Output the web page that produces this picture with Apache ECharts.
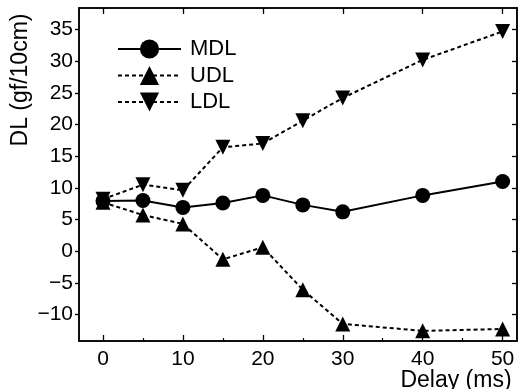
<!DOCTYPE html>
<html><head><meta charset="utf-8">
<script src="https://cdn.jsdelivr.net/npm/echarts@6/dist/echarts.min.js"></script>
<style>html,body{margin:0;padding:0;background:#fff}#c{width:518px;height:389px}</style>
</head><body><div id="c"></div>
<script>
var delays = [0, 5, 10, 15, 20, 25, 30, 40, 50];
var mdl = [7.9, 8.0, 6.9, 7.6, 8.8, 7.3, 6.2, 8.8, 11.0];
var udl = [7.7, 5.7, 4.3, -1.3, 0.6, -6.1, -11.5, -12.6, -12.3];
var ldl = [8.2, 10.5, 9.6, 16.4, 17.0, 20.6, 24.2, 30.2, 34.7];
var xTicks = [0, 10, 20, 30, 40, 50];
var xMinorTicks = [5, 15, 25, 35, 45];
var yTicks = [-10, -5, 0, 5, 10, 15, 20, 25, 30, 35];
var font = 'Liberation Sans, Arial, Helvetica, sans-serif';

function pairs(v){ return delays.map(function(d,i){ return [d, v[i]]; }); }

var chart = echarts.init(document.getElementById('c'), null, {renderer:'canvas'});
var xBase = {type:'value', min:-3, max:51.8, splitLine:{show:false}};
chart.setOption({
  animation:false,
  backgroundColor:'#fff',
  grid:{left:79, top:8, right:1, bottom:48, show:true, borderColor:'#000', borderWidth:1.5},
  legend:{
    orient:'vertical', left:112, top:33, itemWidth:63, itemHeight:24, itemGap:4.5,
    textStyle:{fontFamily:font, fontSize:22, color:'#000', padding:[0,0,0,4]},
    data:['MDL','UDL','LDL']
  },
  xAxis:[
    Object.assign({}, xBase, {position:'bottom',
      axisLine:{onZero:false, lineStyle:{color:'#000', width:1.5}},
      axisTick:{inside:true, length:6, lineStyle:{color:'#000', width:1.3}, customValues:xTicks},
      axisLabel:{customValues:xTicks, color:'#000', fontFamily:font, fontSize:21, margin:8}
    }),
    Object.assign({}, xBase, {position:'bottom',
      axisLine:{show:false, onZero:false},
      axisTick:{inside:true, length:3, lineStyle:{color:'#000', width:1.2}, customValues:xMinorTicks},
      axisLabel:{show:false}
    }),
    Object.assign({}, xBase, {position:'top',
      axisLine:{onZero:false, lineStyle:{color:'#000', width:1.5}},
      axisTick:{inside:true, length:6, lineStyle:{color:'#000', width:1.3}, customValues:xTicks},
      axisLabel:{show:false}
    })
  ],
  yAxis:[
    {type:'value', min:-14.2, max:38.4, position:'left', splitLine:{show:false},
      axisLine:{show:true, onZero:false, lineStyle:{color:'#000', width:1.5}},
      axisTick:{show:true, inside:false, length:4, lineStyle:{color:'#000', width:1.3}, customValues:yTicks},
      axisLabel:{customValues:yTicks, color:'#000', fontFamily:font, fontSize:21, margin:6,
        formatter:function(v){ return v < 0 ? '\u2212' + Math.abs(v) : String(v); }}
    },
    {type:'value', min:-14.2, max:38.4, position:'right', splitLine:{show:false},
      axisLine:{show:true, onZero:false, lineStyle:{color:'#000', width:1.5}},
      axisTick:{show:true, inside:true, length:5, lineStyle:{color:'#000', width:1.3}, customValues:yTicks},
      axisLabel:{show:false}
    }
  ],
  graphic:[
    {type:'text', x:21, y:80, rotation:Math.PI/2,
      style:{text:'DL (gf/10cm)', font:'23px ' + font, fill:'#000', align:'center', verticalAlign:'middle'}},
    {type:'text', x:456, y:381,
      style:{text:'Delay (ms)', font:'23px ' + font, fill:'#000', align:'center', verticalAlign:'middle'}}
  ],
  series:[
    {name:'MDL', type:'line', data:pairs(mdl), symbol:'circle', symbolSize:15,
      lineStyle:{color:'#000', width:2}, itemStyle:{color:'#000'}, z:3},
    {name:'UDL', type:'line', data:pairs(udl), symbol:'triangle', symbolSize:15,
      lineStyle:{color:'#000', width:2, type:[4,3]}, itemStyle:{color:'#000'}},
    {name:'LDL', type:'line', data:pairs(ldl), symbol:'triangle', symbolSize:15, symbolRotate:180,
      lineStyle:{color:'#000', width:2, type:[4,3]}, itemStyle:{color:'#000'}}
  ]
});
</script></body></html>
